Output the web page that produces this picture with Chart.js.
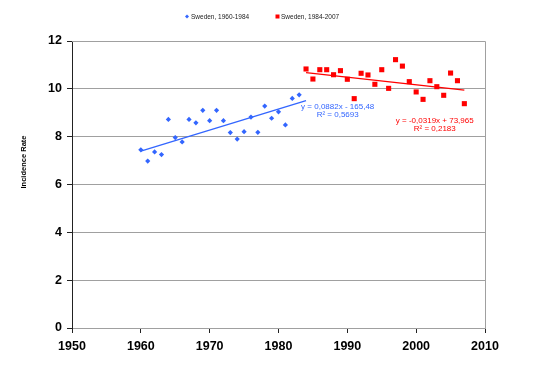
<!DOCTYPE html>
<html>
<head>
<meta charset="utf-8">
<script src="https://cdn.jsdelivr.net/npm/chart.js@4"></script>
<style>
  html, body { margin: 0; padding: 0; background: #fff; }
  #wrap { width: 533px; height: 368px; }
</style>
</head>
<body>
<div id="wrap"><canvas id="chartcontainer" width="533" height="368"></canvas></div>
<script>
// data
var yearsEarly = [1960, 1961, 1962, 1963, 1964, 1965, 1966, 1967, 1968, 1969, 1970, 1971,
                  1972, 1973, 1974, 1975, 1976, 1977, 1978, 1979, 1980, 1981, 1982, 1983];
var ratesEarly = [7.45, 6.98, 7.36, 7.25, 8.72, 7.96, 7.78, 8.72, 8.58, 9.10, 8.67, 9.10,
                  8.67, 8.17, 7.90, 8.21, 8.82, 8.18, 9.28, 8.77, 9.04, 8.49, 9.60, 9.75];
var yearsLate = [1984, 1985, 1986, 1987, 1988, 1989, 1990, 1991, 1992, 1993, 1994, 1995,
                 1996, 1997, 1998, 1999, 2000, 2001, 2002, 2003, 2004, 2005, 2006, 2007];
var ratesLate = [10.83, 10.41, 10.80, 10.80, 10.59, 10.76, 10.40, 9.59, 10.65, 10.58, 10.19, 10.80,
                 10.02, 11.22, 10.95, 10.30, 9.87, 9.56, 10.34, 10.09, 9.73, 10.66, 10.34, 9.38];

var seriesNames = ["Sweden, 1960-1984", "Sweden, 1984-2007"];
// trend lines as printed on the chart
var trendSlopes = [0.0882, -0.0319];
var trendIntercepts = [-165.48, 73.965];
var trendFrom = [1960, 1984];
var trendTo = [1984, 2007];
var trendLabels = [["y = 0,0882x - 165,48", "R\u00b2 = 0,5693"],
                   ["y = -0,0319x + 73,965", "R\u00b2 = 0,2183"]];
var xTicks = [1950, 1960, 1970, 1980, 1990, 2000, 2010];
var yTicks = [0, 2, 4, 6, 8, 10, 12];

var blue = '#3366ff';
var red = '#ff0000';
var colors = [blue, red];

function toPoints(xs, ys) {
    var pts = [];
    for (var i = 0; i < xs.length; i++) pts.push({x: xs[i], y: ys[i]});
    return pts;
}
function trendPoints(k) {
    return [
        {x: trendFrom[k], y: trendSlopes[k] * trendFrom[k] + trendIntercepts[k]},
        {x: trendTo[k], y: trendSlopes[k] * trendTo[k] + trendIntercepts[k]}
    ];
}

// legend, frame, axis title and equations
var extras = {
    id: 'extras',
    afterDraw: function(chart) {
        var ctx = chart.ctx;
        var a = chart.chartArea;
        var xs = chart.scales.x, ys = chart.scales.y;
        ctx.save();
        // plot frame (top / right)
        ctx.strokeStyle = '#a0a0a0';
        ctx.lineWidth = 1;
        ctx.beginPath();
        ctx.moveTo(a.left, a.top + 0.5);
        ctx.lineTo(a.right + 0.5, a.top + 0.5);
        ctx.lineTo(a.right + 0.5, a.bottom);
        ctx.stroke();

        // legend
        ctx.font = '6.5px "Liberation Sans", Arial, sans-serif';
        ctx.textBaseline = 'middle';
        ctx.textAlign = 'left';
        ctx.fillStyle = blue;
        ctx.beginPath();
        ctx.moveTo(187, 14.5); ctx.lineTo(189, 16.5); ctx.lineTo(187, 18.5); ctx.lineTo(185, 16.5);
        ctx.closePath(); ctx.fill();
        ctx.fillStyle = '#222';
        ctx.fillText(seriesNames[0], 191, 17);
        ctx.fillStyle = red;
        ctx.fillRect(275.5, 14.5, 4, 4);
        ctx.fillStyle = '#222';
        ctx.fillText(seriesNames[1], 281, 17);

        // y axis title
        ctx.save();
        ctx.translate(24, 162);
        ctx.rotate(-Math.PI / 2);
        ctx.font = 'bold 7.5px "Liberation Sans", Arial, sans-serif';
        ctx.textAlign = 'center';
        ctx.fillStyle = '#000';
        ctx.fillText('Incidence Rate', 0, 0);
        ctx.restore();

        // equations
        ctx.font = '8px "Liberation Sans", Arial, sans-serif';
        ctx.textAlign = 'center';
        var spots = [[1988.6, 9.25, 8.93], [2002.7, 8.67, 8.31]];
        for (var k = 0; k < 2; k++) {
            ctx.fillStyle = colors[k];
            var px = xs.getPixelForValue(spots[k][0]);
            ctx.fillText(trendLabels[k][0], px, ys.getPixelForValue(spots[k][1]));
            ctx.fillText(trendLabels[k][1], px, ys.getPixelForValue(spots[k][2]));
        }
        ctx.restore();
    }
};

var tickFont = {family: '"Liberation Sans", Arial, sans-serif', size: 12.5, weight: 'bold'};

var ctx = document.getElementById('chartcontainer').getContext('2d');
var chart = new Chart(ctx, {
    type: 'scatter',
    data: {
        datasets: [{
            label: seriesNames[0],
            data: toPoints(yearsEarly, ratesEarly),
            backgroundColor: blue,
            borderColor: blue,
            pointStyle: 'rectRot',
            pointRadius: 2.6,
            borderWidth: 0
        }, {
            label: seriesNames[1],
            data: toPoints(yearsLate, ratesLate),
            backgroundColor: red,
            borderColor: red,
            pointStyle: 'rect',
            pointRadius: 3.6,
            borderWidth: 0
        }, {
            type: 'line',
            data: trendPoints(0),
            borderColor: blue,
            borderWidth: 1.3,
            pointRadius: 0,
            fill: false
        }, {
            type: 'line',
            data: trendPoints(1),
            borderColor: red,
            borderWidth: 1.3,
            pointRadius: 0,
            fill: false
        }]
    },
    options: {
        responsive: false,
        animation: false,
        layout: {padding: {top: 41, right: 48, bottom: 0, left: 0}},
        plugins: {
            legend: {display: false},
            tooltip: {enabled: false}
        },
        scales: {
            x: {
                type: 'linear',
                min: 1950,
                max: 2010,
                afterFit: function(s) { s.height = 40; },
                afterBuildTicks: function(s) { s.ticks = xTicks.map(function(v) { return {value: v}; }); },
                ticks: {
                    color: '#000',
                    font: tickFont,
                    padding: 6,
                    maxRotation: 0,
                    callback: function(v) { return String(v); }
                },
                grid: {drawOnChartArea: false, drawTicks: true, tickLength: 5, tickColor: '#222'},
                border: {color: '#a0a0a0', width: 1}
            },
            y: {
                min: 0,
                max: 12,
                afterFit: function(s) { s.width = 72; },
                afterBuildTicks: function(s) { s.ticks = yTicks.map(function(v) { return {value: v}; }); },
                ticks: {
                    color: '#000',
                    font: tickFont,
                    padding: 5
                },
                grid: {color: '#a0a0a0', tickLength: 5, tickColor: '#222'},
                border: {color: '#222', width: 1}
            }
        }
    },
    plugins: [extras]
});
</script>
</body>
</html>
